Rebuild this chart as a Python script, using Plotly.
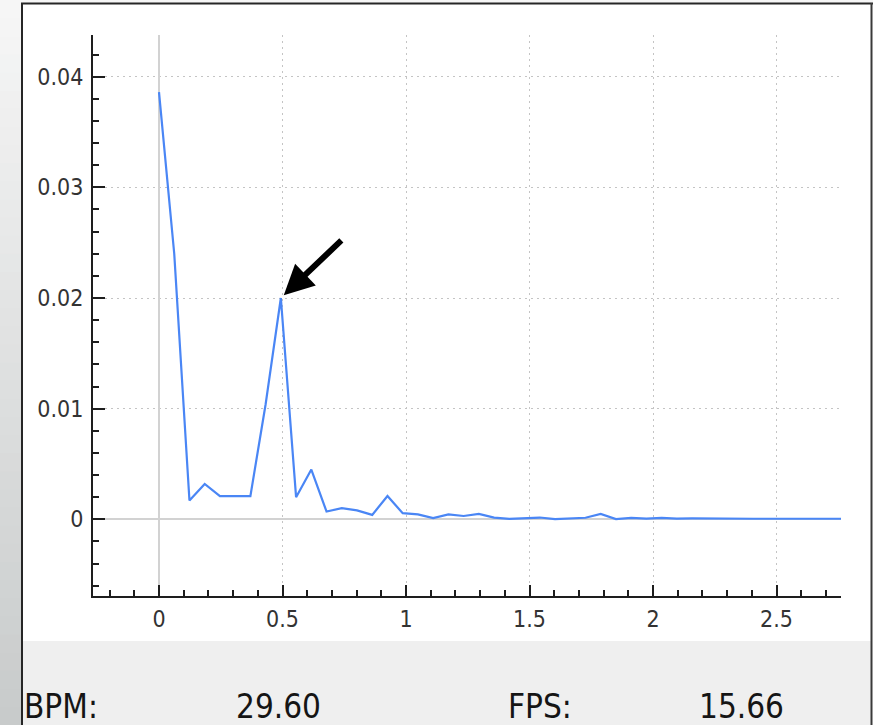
import plotly.graph_objects as go

# Spectrum of the tracked signal: frequency bins (Hz) and power
freq_hz = [
    0.0, 0.0617, 0.1233, 0.185, 0.2467, 0.3083, 0.37, 0.4317, 0.4933, 0.555,
    0.6167, 0.6783, 0.74, 0.8017, 0.8633, 0.925, 0.9867, 1.0483, 1.11, 1.1717,
    1.2333, 1.295, 1.3567, 1.4183, 1.48, 1.5417, 1.6033, 1.665, 1.7267, 1.7883,
    1.85, 1.9117, 1.9733, 2.035, 2.0967, 2.1583, 2.22, 2.2817, 2.3433, 2.405,
    2.4667, 2.5283, 2.59, 2.6517, 2.7133, 2.775,
]
power = [
    0.0386, 0.0240, 0.0017, 0.0032, 0.0021, 0.0021, 0.0021, 0.0104, 0.0200, 0.0020,
    0.0045, 0.0007, 0.0010, 0.0008, 0.0004, 0.0021, 0.00055, 0.00045, 0.0001, 0.00045,
    0.0003, 0.00048, 0.00015, 0.00003, 0.0001, 0.00016, 0.00002, 0.0001, 0.00014, 0.00048,
    0.00002, 0.00012, 0.00006, 0.00012, 0.00006, 0.00008, 0.00006, 0.00005, 0.00006, 0.00005,
    0.00005, 0.00006, 0.00005, 0.00006, 0.00005, 0.00005,
]

bpm_label = "BPM:"
bpm_value = "29.60"
fps_label = "FPS:"
fps_value = "15.66"

W, H = 873, 725
L, R, T, B = 93, 841, 35, 596          # plot area in pixels
X0_PX, X_SCALE = 159.0, 247.0          # pixel of x=0, pixels per Hz
Y0_PX, Y_SCALE = 519.3, 11065.0        # pixel of y=0, pixels per unit

x_range = [(L - X0_PX) / X_SCALE, (R - X0_PX) / X_SCALE]
y_range = [(Y0_PX - B) / Y_SCALE, (Y0_PX - T) / Y_SCALE]


def px(x):
    return (x - L) / (R - L)


def py(y):
    return (B - y) / (B - T)


FONT = "DejaVu Sans Condensed, DejaVu Sans, sans-serif"

fig = go.Figure()
fig.add_trace(go.Scatter(
    x=freq_hz, y=power, mode="lines",
    line=dict(color="#4a86f5", width=2.2),
    hoverinfo="skip", showlegend=False,
))

shapes = []
# window frame: vertical gradient strip on the left
n_bands = 40
top_rgb = (246, 246, 246)
bot_rgb = (200, 203, 203)
for i in range(n_bands):
    t = i / (n_bands - 1)
    c = tuple(int(round(a + (b - a) * t)) for a, b in zip(top_rgb, bot_rgb))
    y_a = H * i / n_bands
    y_b = H * (i + 1) / n_bands + 1
    shapes.append(dict(type="rect", xref="paper", yref="paper",
                       x0=px(0), x1=px(22), y0=py(y_a), y1=py(y_b),
                       fillcolor="rgb(%d,%d,%d)" % c, line=dict(width=0), layer="below"))
shapes.append(dict(type="rect", xref="paper", yref="paper",
                   x0=px(22), x1=px(W), y0=py(0), y1=py(3),
                   fillcolor="#f6f6f6", line=dict(width=0), layer="below"))
# status panel under the chart
shapes.append(dict(type="rect", xref="paper", yref="paper",
                   x0=px(23), x1=px(871), y0=py(641), y1=py(H),
                   fillcolor="#efefef", line=dict(width=0), layer="below"))
# frame borders
frame = "#262626"
shapes.append(dict(type="line", xref="paper", yref="paper",
                   x0=px(22), x1=px(22), y0=py(3), y1=py(H),
                   line=dict(color=frame, width=2), layer="above"))
shapes.append(dict(type="line", xref="paper", yref="paper",
                   x0=px(21), x1=px(873), y0=py(3.5), y1=py(3.5),
                   line=dict(color=frame, width=2), layer="above"))
shapes.append(dict(type="line", xref="paper", yref="paper",
                   x0=px(871.5), x1=px(871.5), y0=py(3), y1=py(H),
                   line=dict(color="#3a3a3a", width=2), layer="above"))

# arrow pointing at the dominant peak
peak_i = max(range(4, len(power)), key=lambda i: power[i])
annotations = [dict(
    x=freq_hz[peak_i], y=power[peak_i], xref="x", yref="y",
    text="", showarrow=True, ax=62, ay=-59,
    arrowhead=2, arrowsize=1.0, arrowwidth=6, arrowcolor="black", standoff=4,
)]

status_font = dict(family=FONT, size=33, color="#151515")
for label, xpix in [(bpm_label, 22), (bpm_value, 234), (fps_label, 506), (fps_value, 697)]:
    annotations.append(dict(
        x=px(xpix), y=py(706), xref="paper", yref="paper",
        text=label, showarrow=False, xanchor="left", yanchor="middle",
        font=status_font,
    ))

axis_common = dict(
    showline=True, linecolor="#1e1e1e", linewidth=2,
    ticks="inside", tickwidth=2, tickcolor="#1e1e1e",
    showgrid=True, gridcolor="#c4c4c4", gridwidth=1, griddash="2px,4px",
    zeroline=True, zerolinecolor="#d2d2d2", zerolinewidth=2,
    tickfont=dict(family=FONT, size=23, color="#333333"),
)

fig.update_layout(
    width=W, height=H,
    margin=dict(l=L, r=W - R, t=T, b=H - B, pad=0),
    paper_bgcolor="white", plot_bgcolor="white",
    xaxis=dict(range=x_range, tick0=0, dtick=0.5, ticklen=11,
               ticklabelstandoff=1,
               minor=dict(dtick=0.1, tick0=0, ticks="inside", ticklen=6,
                          tickwidth=2, tickcolor="#1e1e1e", showgrid=False),
               **axis_common),
    yaxis=dict(range=y_range, tick0=0, dtick=0.01, ticklen=12,
               ticklabelstandoff=3,
               minor=dict(dtick=0.002, tick0=0, ticks="inside", ticklen=6,
                          tickwidth=2, tickcolor="#1e1e1e", showgrid=False),
               **axis_common),
    shapes=shapes,
    annotations=annotations,
    showlegend=False,
)

fig.write_html("out.html", config=dict(displayModeBar=False))
